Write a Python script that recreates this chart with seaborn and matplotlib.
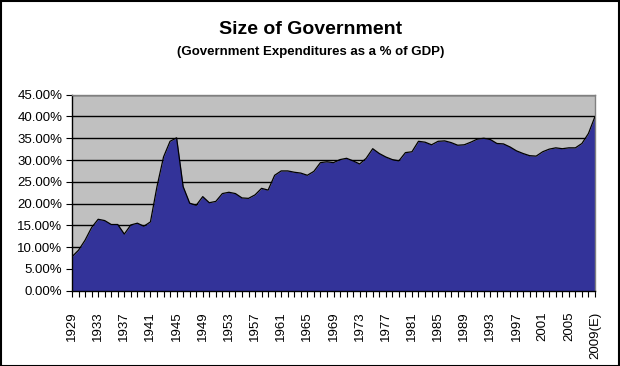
import numpy as np
import pandas as pd
import matplotlib
matplotlib.use("Agg")
import matplotlib.pyplot as plt
import matplotlib.patches as patches
from matplotlib.ticker import FuncFormatter, MultipleLocator
import seaborn as sns

# Dados: gastos do governo como % do PIB
anos = list(range(1929, 2010))
gastos_pct = [
    7.8, 9.3, 11.6, 14.5, 16.4, 16.1, 15.2, 15.2, 13.0, 15.1,
    15.5, 14.8, 15.8, 23.9, 30.7, 34.3, 35.1, 23.9, 20.1, 19.6,
    21.6, 20.2, 20.5, 22.3, 22.6, 22.3, 21.3, 21.2, 22.0, 23.5,
    23.1, 26.5, 27.5, 27.5, 27.2, 27.0, 26.5, 27.4, 29.4, 29.6,
    29.4, 30.1, 30.4, 29.8, 29.1, 30.4, 32.6, 31.5, 30.7, 30.1,
    29.8, 31.7, 31.9, 34.3, 34.1, 33.5, 34.3, 34.4, 34.0, 33.4,
    33.5, 34.1, 34.8, 35.0, 34.7, 33.8, 33.7, 33.0, 32.1, 31.5,
    31.0, 30.9, 31.9, 32.5, 32.8, 32.6, 32.8, 32.8, 33.8, 36.1,
    40.0,
]
anos_rotulo = list(range(1929, 2010, 4))
rotulos_x = [str(a) for a in anos_rotulo[:-1]] + ["2009(E)"]

df = pd.DataFrame({"Ano": anos, "Gasto": gastos_pct})

sns.set_style("white")
plt.rcParams["font.family"] = ["Liberation Sans", "DejaVu Sans"]
plt.rcParams.update({"text.color": "black", "xtick.color": "black", "ytick.color": "black",
                     "axes.labelcolor": "black"})

fig = plt.figure(figsize=(6.2, 3.66), dpi=100)
ax = fig.add_axes([72 / 620, 1 - 290.7 / 366, (595 - 72) / 620, (290.7 - 94.7) / 366])
ax.set_facecolor("#C0C0C0")

ax.fill_between(df["Ano"], df["Gasto"], 0, color="#333399", zorder=2, linewidth=0)
sns.lineplot(data=df, x="Ano", y="Gasto", ax=ax, color="black", linewidth=0.9, zorder=3)

ax.set_xlim(1929, 2009)
ax.set_ylim(0, 45)
ax.yaxis.set_major_locator(MultipleLocator(5))
ax.yaxis.set_major_formatter(FuncFormatter(lambda v, p: f"{v:.2f}%"))
ax.grid(axis="y", color="black", linewidth=1, zorder=1)
ax.set_axisbelow(True)

ax.set_xticks(anos_rotulo)
ax.set_xticklabels(rotulos_x, rotation=90, va="top", ha="center")
ax.set_xticks(anos, minor=True)
ax.tick_params(axis="x", which="both", direction="out", length=4, width=0.8, color="black",
               labelsize=9.5, pad=11, labelcolor="black")
ax.tick_params(axis="y", which="major", direction="out", length=4, width=0.8, color="black",
               labelsize=9.5, pad=3, labelcolor="black")
ax.tick_params(bottom=True, left=True, which="both")
ax.set_xlabel("")
ax.set_ylabel("")

for s in ["top", "right"]:
    ax.spines[s].set_color("#808080")
    ax.spines[s].set_linewidth(1)
for s in ["left", "bottom"]:
    ax.spines[s].set_color("black")
    ax.spines[s].set_linewidth(1)

fig.text(311 / 620, 1 - 29 / 366, "Size of Government", ha="center", va="center",
         fontsize=14, fontweight="bold", color="black")
fig.text(311 / 620, 1 - 52 / 366, "(Government Expenditures as a % of GDP)", ha="center",
         va="center", fontsize=9.5, fontweight="bold", color="black")

fig.patches.append(patches.Rectangle((0.001, 0.001), 0.997, 0.997, transform=fig.transFigure,
                                     fill=False, edgecolor="black", linewidth=1.5))

fig.savefig("out.png", dpi=100, facecolor="white")
